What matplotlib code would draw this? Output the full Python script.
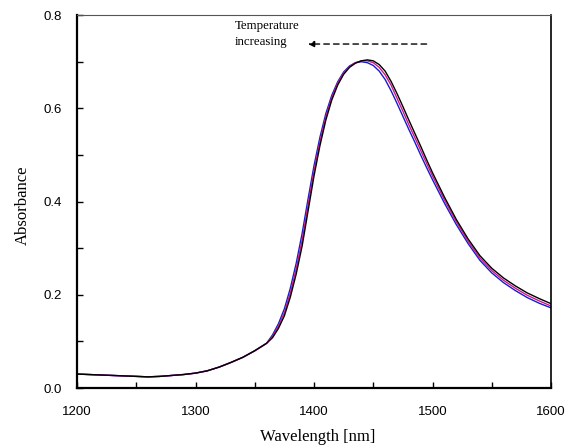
import matplotlib
matplotlib.use("Agg")
import matplotlib.pyplot as plt
from matplotlib.ticker import MultipleLocator, FormatStrFormatter

wavelength = [1200, 1210, 1220, 1230, 1240, 1250, 1260, 1270, 1280, 1290,
              1300, 1310, 1320, 1330, 1340, 1350, 1355, 1360, 1365, 1370,
              1375, 1380, 1385, 1390, 1395, 1400, 1405, 1410, 1415, 1420,
              1425, 1430, 1435, 1440, 1445, 1450, 1455, 1460, 1465, 1470,
              1475, 1480, 1485, 1490, 1495, 1500, 1510, 1520, 1530, 1540,
              1550, 1560, 1570, 1580, 1590, 1600]

low_part = [0.030, 0.029, 0.028, 0.027, 0.026, 0.025, 0.024, 0.025, 0.027, 0.029,
            0.032, 0.037, 0.045, 0.055, 0.066, 0.080, 0.088, 0.096]

abs_black = low_part + [0.108, 0.128, 0.155, 0.195, 0.245, 0.305, 0.380, 0.455, 0.520,
                        0.575, 0.618, 0.650, 0.673, 0.688, 0.697, 0.702, 0.704, 0.702,
                        0.694, 0.680, 0.658, 0.632, 0.604, 0.575, 0.547, 0.519, 0.490,
                        0.462, 0.410, 0.362, 0.320, 0.284, 0.257, 0.236, 0.219, 0.204,
                        0.192, 0.181]
abs_red = low_part + [0.111, 0.133, 0.162, 0.204, 0.256, 0.318, 0.393, 0.466, 0.529,
                      0.582, 0.623, 0.654, 0.676, 0.690, 0.698, 0.702, 0.702, 0.698,
                      0.688, 0.672, 0.650, 0.622, 0.594, 0.565, 0.538, 0.510, 0.482,
                      0.455, 0.404, 0.357, 0.315, 0.279, 0.252, 0.231, 0.214, 0.199,
                      0.187, 0.176]
abs_blue = low_part + [0.114, 0.138, 0.170, 0.214, 0.268, 0.332, 0.406, 0.477, 0.538,
                       0.589, 0.628, 0.657, 0.678, 0.691, 0.698, 0.700, 0.698, 0.692,
                       0.680, 0.662, 0.638, 0.611, 0.583, 0.555, 0.528, 0.500, 0.473,
                       0.447, 0.397, 0.351, 0.310, 0.274, 0.247, 0.226, 0.209, 0.194,
                       0.182, 0.172]

fig = plt.figure(figsize=(5.73, 4.45), dpi=100)
ax = fig.add_axes([0.1344, 0.128, 0.8272, 0.838])

ax.plot(wavelength, abs_blue, color="#1a1acc", lw=1.0)
ax.plot(wavelength, abs_red, color="#cc1a8c", lw=1.0)
ax.plot(wavelength, abs_black, color="black", lw=1.0)

ax.set_xlim(1200, 1600)
ax.set_ylim(0, 0.8)
ax.xaxis.set_major_locator(MultipleLocator(100))
ax.xaxis.set_minor_locator(MultipleLocator(50))
ax.yaxis.set_major_locator(MultipleLocator(0.2))
ax.yaxis.set_minor_locator(MultipleLocator(0.1))
ax.yaxis.set_major_formatter(FormatStrFormatter("%.1f"))
ax.tick_params(which="both", direction="in", top=False, right=False, width=1)
ax.tick_params(which="major", length=4)
ax.tick_params(which="minor", length=4)
ax.tick_params(axis="x", which="major", pad=13)
ax.tick_params(axis="y", which="major", pad=11)
for lab in ax.get_xticklabels() + ax.get_yticklabels():
    lab.set_fontfamily("Liberation Sans")
    lab.set_fontsize(9.5)

ax.spines["left"].set_linewidth(1.6)
ax.spines["bottom"].set_linewidth(1.6)
ax.spines["right"].set_linewidth(1.2)
ax.spines["top"].set_linewidth(0.8)
ax.spines["top"].set_color("#555555")

ax.set_xlabel("Wavelength [nm]", family="Liberation Serif", fontsize=12)
ax.set_ylabel("Absorbance", family="Liberation Serif", fontsize=12)
ax.xaxis.set_label_coords(0.508, -0.110)
ax.yaxis.set_label_coords(-0.097, 0.49)

ax.text(1333, 0.790, "Temperature\nincreasing", family="Liberation Serif",
        fontsize=9.3, va="top", ha="left", linespacing=1.45)
ax.annotate("", xy=(1395, 0.738), xytext=(1495, 0.738),
            arrowprops=dict(arrowstyle="-|>", linestyle=(0, (4, 3)), color="black",
                            lw=1.0, shrinkA=0, shrinkB=0, mutation_scale=9))

fig.savefig("out.png", dpi=100)
